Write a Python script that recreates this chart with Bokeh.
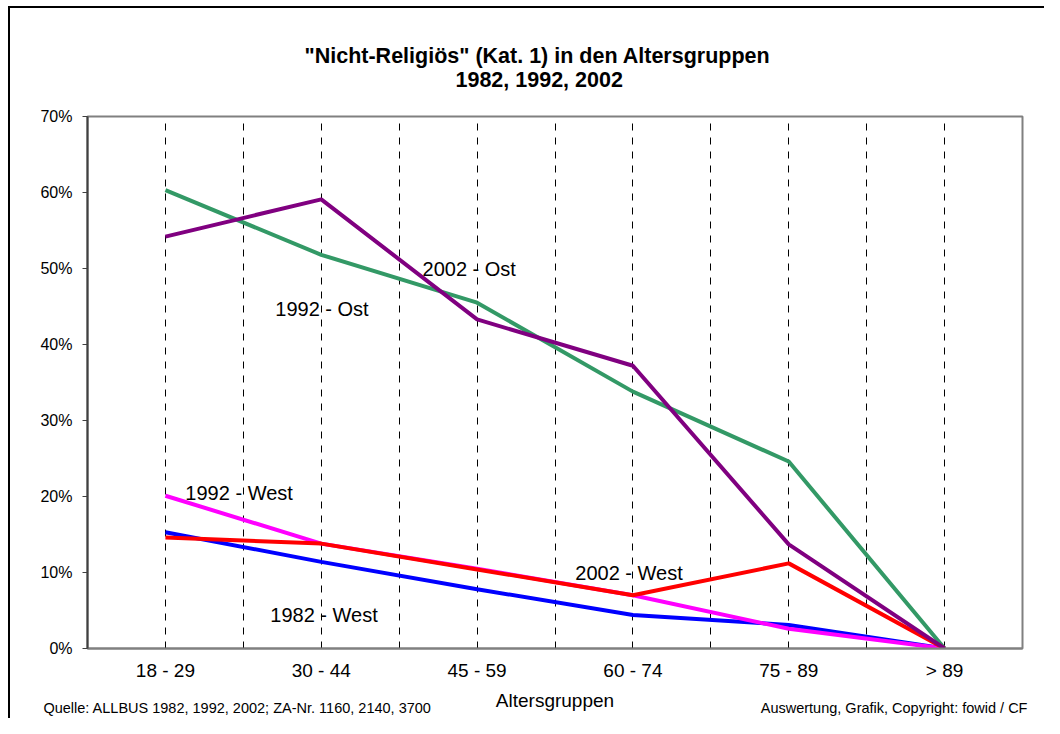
from bokeh.plotting import figure
from bokeh.models import FixedTicker, PrintfTickFormatter, Label, Range1d, Title, LinearAxis
from bokeh.embed import file_html
from bokeh.resources import INLINE
import numpy as np

# ---- data ----
categories = ["18 - 29", "30 - 44", "45 - 59", "60 - 74", "75 - 89", "> 89"]
y_ticks = [0, 10, 20, 30, 40, 50, 60, 70]
west_1982 = [15.3, 11.4, 7.8, 4.4, 3.1, 0.0]
west_1992 = [20.1, 13.8, 10.5, 7.0, 2.6, 0.0]
west_2002 = [14.6, 13.8, 10.4, 7.0, 11.2, 0.0]
ost_1992 = [54.2, 59.1, 43.3, 37.2, 13.7, 0.0]
ost_2002 = [60.3, 51.8, 45.5, 33.8, 24.6, 0.0]

series_values = [west_1982, west_1992, ost_2002, west_2002, ost_1992]
series_colors = ["#0000FF", "#FF00FF", "#339966", "#FF0000", "#800080"]

# label anchor positions (x in category units, y in percent)
label_texts = ["1992 - West", "1982 - West", "2002 - West", "1992 - Ost", "2002 - Ost"]
label_x = [0.628, 1.173, 3.13, 1.205, 2.15]
label_y = [20.4, 4.47, 10.0, 44.7, 49.9]

title_lines = ['"Nicht-Religiös" (Kat. 1) in den Altersgruppen', "1982, 1992, 2002"]
source_note = "Quelle: ALLBUS 1982, 1992, 2002; ZA-Nr. 1160, 2140, 3700"
credit_note = "Auswertung, Grafik, Copyright: fowid / CF"
note_centers = [0.963, 5.176]   # centre of each note, in category units

FONT = "Liberation Sans"

n = len(categories)
xs = np.arange(n) + 0.5

p = figure(width=1044, height=718, output_backend="svg", toolbar_location=None,
           x_range=Range1d(0, n), y_range=Range1d(0, 70),
           min_border_left=87, min_border_top=116, min_border_right=22, min_border_bottom=70)
p.background_fill_color = "white"
p.border_fill_color = None
p.styles = {"background": "linear-gradient(#000,#000) 8px 6px / 2px 100% no-repeat, "
                          "linear-gradient(#000,#000) 8px 6px / 100% 2px no-repeat, white"}
p.outline_line_color = "#808080"
p.outline_line_width = 2

# x axis
xa = p.xaxis[0]
xa.ticker = FixedTicker(ticks=list(xs))
xa.major_label_overrides = {float(x): c for x, c in zip(xs, categories)}
xa.major_tick_out = 0
xa.major_tick_in = 0
xa.minor_tick_out = 0
xa.minor_tick_in = 0
xa.axis_line_color = "#808080"
xa.axis_line_width = 2
xa.major_label_text_font = FONT
xa.major_label_text_font_size = "19px"
xa.major_label_text_color = "black"
xa.major_label_standoff = 11
xa.axis_label = "Altersgruppen"
xa.axis_label_text_font = FONT
xa.axis_label_text_font_size = "19px"
xa.axis_label_text_font_style = "normal"
xa.axis_label_text_color = "black"
xa.axis_label_standoff = 6

# footnote axis (labels only)
na = LinearAxis(ticker=FixedTicker(ticks=note_centers),
                major_label_overrides={note_centers[0]: source_note, note_centers[1]: credit_note},
                axis_line_color=None, major_tick_line_color=None, minor_tick_line_color=None,
                major_tick_out=0, major_tick_in=0, minor_tick_out=0, minor_tick_in=0,
                major_label_text_font=FONT, major_label_text_font_size="14.5px",
                major_label_text_color="black", major_label_standoff=-14)
p.add_layout(na, "below")

# y axis
p.yaxis.ticker = FixedTicker(ticks=y_ticks)
p.yaxis.formatter = PrintfTickFormatter(format="%d%%")
p.yaxis.major_tick_out = 5
p.yaxis.major_tick_in = 0
p.yaxis.minor_tick_out = 0
p.yaxis.minor_tick_in = 0
p.yaxis.axis_line_color = "#404040"
p.yaxis.axis_line_width = 2
p.yaxis.major_tick_line_color = "#404040"
p.yaxis.major_label_text_font = FONT
p.yaxis.major_label_text_font_size = "16px"
p.yaxis.major_label_text_color = "black"
p.yaxis.major_label_standoff = 10

# grids
p.ygrid.grid_line_color = None
grid_ticks = [i * 0.5 for i in range(1, 2 * n)]
p.xgrid.ticker = FixedTicker(ticks=grid_ticks)
p.xgrid.grid_line_color = "black"
p.xgrid.grid_line_width = 1
p.xgrid.grid_line_dash = "7 7"
p.xgrid.grid_line_alpha = 1.0

# series
for vals, col in zip(series_values, series_colors):
    p.line(xs, vals, line_color=col, line_width=4)

# series labels
for t, lx, ly in zip(label_texts, label_x, label_y):
    p.add_layout(Label(x=lx, y=ly, text=t, text_font=FONT, text_font_size="20px",
                       text_color="black", text_align="left", text_baseline="alphabetic"))

# title lines (line 2 first: nearest to the frame)
p.add_layout(Title(text=title_lines[1], align="left", offset=368, standoff=45,
                   vertical_align="top",
                   text_font=FONT, text_font_size="21.5px", text_font_style="bold",
                   text_color="black"), "above")
p.add_layout(Title(text=title_lines[0], align="left", offset=217, standoff=-44,
                   text_font=FONT, text_font_size="21.5px", text_font_style="bold",
                   text_color="black"), "above")

open("out.html", "w").write(file_html(p, INLINE))
